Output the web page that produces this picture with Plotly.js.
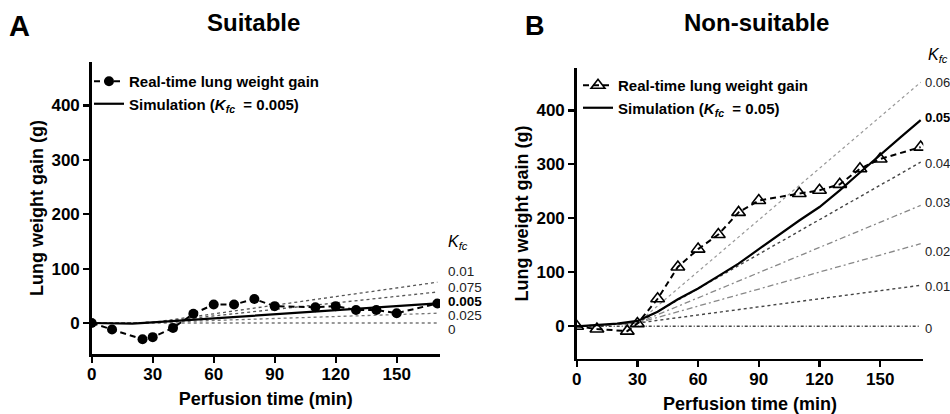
<!DOCTYPE html>
<html>
<head>
<meta charset="utf-8">
<script src="https://cdn.plot.ly/plotly-3.0.1.min.js"></script>
<style>html,body{margin:0;padding:0;background:#fff;}#chart{width:950px;height:414px;}</style>
</head>
<body>
<div id="chart"></div>
<script>
// ---------- DATA ----------
const xTicks = [0, 30, 60, 90, 120, 150];
const yTicks = [0, 100, 200, 300, 400];

// Panel A (Suitable)
const timeA = [0, 10, 25, 30, 40, 50, 60, 70, 80, 90, 110, 120, 130, 140, 150, 170];
const gainA = [0, -12, -30, -26, -9, 17, 34, 34, 44, 31, 29, 31, 24, 24, 18, 36];
const simTime = [0, 10, 20, 30, 40, 50, 60, 70, 80, 90, 100, 110, 120, 130, 140, 150, 160, 170];
const simA = [0, -1, -1, 1, 3.5, 6, 8.5, 11, 13.5, 16, 18.5, 21, 23.5, 26, 28.5, 31, 33.5, 36];
const kfcTime = [0, 30, 170];
const kfcLabelsA = ["0.01", "0.075", "0.005", "0.025", "0"];
const kfcA_001 = [0, 1, 75];
const kfcA_0075 = [0, 1, 57];
const kfcA_0025 = [0, 1, 18];
const kfcA_0 = [0, 0, 0];

// Panel B (Non-suitable)
const timeB = [0, 10, 25, 30, 40, 50, 60, 70, 80, 90, 110, 120, 130, 140, 150, 170];
const gainB = [0, -5, -9, 5, 51, 110, 143, 170, 211, 233, 246, 252, 263, 292, 310, 332];
const simB = [0, 3, 5, 10, 27, 50, 70, 93, 116, 143, 170, 196, 221, 252, 285, 318, 350, 382];
const kfcLabelsB = ["0.06", "0.05", "0.04", "0.03", "0.02", "0.01", "0"];
const kfcB_006 = [0, 6, 452];
const kfcB_004 = [0, 6, 304];
const kfcB_003 = [0, 6, 224];
const kfcB_002 = [0, 6, 153];
const kfcB_001 = [0, 6, 76];
const kfcB_0 = [0, 0, 0];

// ---------- LAYOUT HELPERS ----------
const W = 950, H = 414;
const px = x => x / W;
const py = y => 1 - y / H;
const FONT = "Liberation Sans, Arial, Helvetica, sans-serif";

function refLine(x, y, color, dash, width, xa, ya) {
  return {x: x, y: y, type: 'scatter', mode: 'lines', xaxis: xa, yaxis: ya,
    line: {color: color, dash: dash, width: width}, showlegend: false, hoverinfo: 'skip'};
}

const traces = [];
// Panel A reference Kfc lines
traces.push(refLine(kfcTime, kfcA_001, '#555', 'dot', 1.3, 'x', 'y'));
traces.push(refLine(kfcTime, kfcA_0075, '#555', 'dot', 1.3, 'x', 'y'));
traces.push(refLine(kfcTime, kfcA_0025, '#777', 'dot', 1.3, 'x', 'y'));
traces.push(refLine(kfcTime, kfcA_0, '#777', 'dot', 1.3, 'x', 'y'));
// Panel A data
traces.push({x: timeA, y: gainA, type: 'scatter', mode: 'lines+markers', xaxis: 'x', yaxis: 'y',
  name: 'Real-time lung weight gain', legend: 'legend',
  line: {color: '#000', dash: '6px,4px', width: 2},
  marker: {symbol: 'circle', size: 10, color: '#000'}});
traces.push({x: simTime, y: simA, type: 'scatter', mode: 'lines', xaxis: 'x', yaxis: 'y',
  name: 'Simulation (<i>K<sub>fc</sub></i> &nbsp;= 0.005)', legend: 'legend',
  line: {color: '#000', width: 2.2}});

// Panel B reference Kfc lines
traces.push(refLine(kfcTime, kfcB_006, '#999', 'dot', 1.2, 'x2', 'y2'));
traces.push(refLine(kfcTime, kfcB_004, '#444', 'dot', 1.4, 'x2', 'y2'));
traces.push(refLine(kfcTime, kfcB_003, '#888', '6px,3px,2px,3px', 1.3, 'x2', 'y2'));
traces.push(refLine(kfcTime, kfcB_002, '#888', '6px,3px,2px,3px', 1.3, 'x2', 'y2'));
traces.push(refLine(kfcTime, kfcB_001, '#444', 'dot', 1.4, 'x2', 'y2'));
traces.push(refLine(kfcTime, kfcB_0, '#444', '3px,2px,1px,2px', 1.4, 'x2', 'y2'));
// Panel B data
traces.push({x: timeB, y: gainB, type: 'scatter', mode: 'lines+markers', xaxis: 'x2', yaxis: 'y2',
  name: 'Real-time lung weight gain', legend: 'legend2',
  line: {color: '#000', dash: '6px,4px', width: 2},
  marker: {symbol: 'triangle-up-open', size: 12, color: '#000', line: {width: 1.6, color: '#000'}}});
traces.push({x: simTime, y: simB, type: 'scatter', mode: 'lines', xaxis: 'x2', yaxis: 'y2',
  name: 'Simulation (<i>K<sub>fc</sub></i> &nbsp;= 0.05)', legend: 'legend2',
  line: {color: '#000', width: 2.2}});

function xAxis(domain, anchor) {
  return {domain: domain, anchor: anchor, range: [0, 171.3], tickmode: 'array', tickvals: xTicks,
    showline: true, linecolor: '#000', linewidth: 2.5, ticks: 'outside', ticklen: 6, tickwidth: 2.2, tickcolor: '#000',
    showgrid: false, zeroline: false, fixedrange: true, ticklabelstandoff: -3,
    tickfont: {family: FONT, size: 17, color: '#000', weight: 'bold'},
    title: {text: 'Perfusion time (min)', font: {family: FONT, size: 18, color: '#000', weight: 'bold'}, standoff: 10}};
}
function yAxis(domain, anchor, range) {
  return {domain: domain, anchor: anchor, range: range, tickmode: 'array', tickvals: yTicks,
    showline: true, linecolor: '#000', linewidth: 2.5, ticks: 'outside', ticklen: 6, tickwidth: 2.2, tickcolor: '#000',
    showgrid: false, zeroline: false, fixedrange: true,
    tickfont: {family: FONT, size: 17, color: '#000', weight: 'bold'},
    title: {text: 'Lung weight gain (g)', font: {family: FONT, size: 18, color: '#000', weight: 'bold'}, standoff: 3}};
}

const annotations = [];
function txt(text, x, y, size, opts) {
  annotations.push(Object.assign({text: text, xref: 'paper', yref: 'paper', x: px(x), y: py(y),
    xanchor: 'left', yanchor: 'middle', showarrow: false,
    font: {family: FONT, size: size, color: '#000'}}, opts || {}));
}
// Titles and panel letters
txt('Suitable', 253, 22, 24, {xanchor: 'center', font: {family: FONT, size: 24, color: '#000', weight: 'bold'}});
txt('Non-suitable', 756, 22, 24, {xanchor: 'center', font: {family: FONT, size: 24, color: '#000', weight: 'bold'}});
txt('A', 19, 26, 29, {xanchor: 'center', font: {family: FONT, size: 29, color: '#000', weight: 'bold'}});
txt('B', 535, 26, 27, {xanchor: 'center', font: {family: FONT, size: 27, color: '#000', weight: 'bold'}});

// Kfc labels A
txt('<i>K<sub>fc</sub></i>', 446, 242, 16);
const labYA = [271, 287, 301, 315, 329];
kfcLabelsA.forEach((t, i) => {
  const bold = (t === '0.005');
  txt(t, 446, labYA[i], 13.5, {font: {family: FONT, size: 13.5, color: bold ? '#000' : '#222', weight: bold ? 'bold' : 'normal'}});
});
// Kfc labels B
txt('<i>K<sub>fc</sub></i>', 926, 55, 16);
const labYB = [82, 118, 163, 203, 251, 286, 328];
kfcLabelsB.forEach((t, i) => {
  const bold = (t === '0.05');
  txt(t, 923, labYB[i], 13, {font: {family: FONT, size: 13, color: bold ? '#000' : '#222', weight: bold ? 'bold' : 'normal'}});
});

const legendFont = {family: FONT, size: 15, color: '#000', weight: 'bold'};
const layout = {
  width: W, height: H, margin: {l: 0, r: 0, t: 0, b: 0},
  paper_bgcolor: '#fff', plot_bgcolor: 'rgba(0,0,0,0)',
  font: {family: FONT, color: '#000'},
  xaxis: xAxis([px(91.7), px(440)], 'y'),
  yaxis: yAxis([py(354), py(62)], 'x', [-57, 480]),
  xaxis2: xAxis([px(576.7), px(923.3)], 'y2'),
  yaxis2: yAxis([py(358.7), py(68.3)], 'x2', [-60, 478]),
  showlegend: true,
  legend: {x: px(89), y: py(65), xanchor: 'left', yanchor: 'top', bgcolor: 'rgba(0,0,0,0)', font: legendFont, tracegroupgap: 0},
  legend2: {x: px(578), y: py(69), xanchor: 'left', yanchor: 'top', bgcolor: 'rgba(0,0,0,0)', font: legendFont, tracegroupgap: 0},
  annotations: annotations
};

Plotly.newPlot('chart', traces, layout, {staticPlot: true, displayModeBar: false});
</script>
</body>
</html>
